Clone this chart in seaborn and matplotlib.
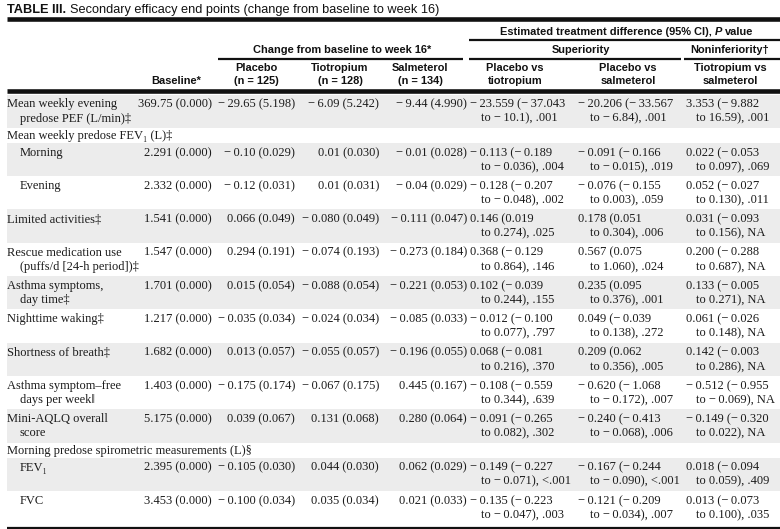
import matplotlib
matplotlib.use("Agg")
import matplotlib.pyplot as plt
import seaborn as sns

# ---------------- data ----------------
title_bold = "TABLE III."
title_rest = "Secondary efficacy end points (change from baseline to week 16)"

group_change = "Change from baseline to week 16*"
group_diff = ["Estimated treatment difference (95% CI), ", "P", " value"]
group_sup = "Superiority"
group_noninf = "Noninferiority†"

col_baseline = ["Baseline*"]
col_placebo = ["Placebo", "(n = 125)"]
col_tio = ["Tiotropium", "(n = 128)"]
col_salm = ["Salmeterol", "(n = 134)"]
col_pvt = ["Placebo vs", "tiotropium"]
col_pvs = ["Placebo vs", "salmeterol"]
col_tvs = ["Tiotropium vs", "salmeterol"]

row_labels = [
    ["Mean weekly evening", "predose PEF (L/min)‡"],
    ["Mean weekly predose FEV\u2081 (L)‡"],
    ["Morning"],
    ["Evening"],
    ["Limited activities‡"],
    ["Rescue medication use", "(puffs/d [24-h period])‡"],
    ["Asthma symptoms,", "day time‡"],
    ["Nighttime waking‡"],
    ["Shortness of breath‡"],
    ["Asthma symptom–free", "days per week‖"],
    ["Mini-AQLQ overall", "score"],
    ["Morning predose spirometric measurements (L)§"],
    ["FEV\u2081"],
    ["FVC"],
]
row_sub = [False, False, True, True, False, False, False, False, False,
           False, False, False, True, True]

baseline = ["369.75 (0.000)", None, "2.291 (0.000)", "2.332 (0.000)",
            "1.541 (0.000)", "1.547 (0.000)", "1.701 (0.000)", "1.217 (0.000)",
            "1.682 (0.000)", "1.403 (0.000)", "5.175 (0.000)", None,
            "2.395 (0.000)", "3.453 (0.000)"]
placebo = ["−29.65 (5.198)", None, "−0.10 (0.029)", "−0.12 (0.031)",
           "0.066 (0.049)", "0.294 (0.191)", "0.015 (0.054)", "−0.035 (0.034)",
           "0.013 (0.057)", "−0.175 (0.174)", "0.039 (0.067)", None,
           "−0.105 (0.030)", "−0.100 (0.034)"]
tiotropium = ["−6.09 (5.242)", None, "0.01 (0.030)", "0.01 (0.031)",
              "−0.080 (0.049)", "−0.074 (0.193)", "−0.088 (0.054)", "−0.024 (0.034)",
              "−0.055 (0.057)", "−0.067 (0.175)", "0.131 (0.068)", None,
              "0.044 (0.030)", "0.035 (0.034)"]
salmeterol = ["−9.44 (4.990)", None, "−0.01 (0.028)", "−0.04 (0.029)",
              "−0.111 (0.047)", "−0.273 (0.184)", "−0.221 (0.053)", "−0.085 (0.033)",
              "−0.196 (0.055)", "0.445 (0.167)", "0.280 (0.064)", None,
              "0.062 (0.029)", "0.021 (0.033)"]

# (estimate, lower, upper, P)
pbo_vs_tio = [("−23.559", "−37.043", "−10.1", ".001"), None,
              ("−0.113", "−0.189", "−0.036", ".004"),
              ("−0.128", "−0.207", "−0.048", ".002"),
              ("0.146", "0.019", "0.274", ".025"),
              ("0.368", "−0.129", "0.864", ".146"),
              ("0.102", "−0.039", "0.244", ".155"),
              ("−0.012", "−0.100", "0.077", ".797"),
              ("0.068", "−0.081", "0.216", ".370"),
              ("−0.108", "−0.559", "0.344", ".639"),
              ("−0.091", "−0.265", "0.082", ".302"), None,
              ("−0.149", "−0.227", "−0.071", "<.001"),
              ("−0.135", "−0.223", "−0.047", ".003")]
pbo_vs_salm = [("−20.206", "−33.567", "−6.84", ".001"), None,
               ("−0.091", "−0.166", "−0.015", ".019"),
               ("−0.076", "−0.155", "0.003", ".059"),
               ("0.178", "0.051", "0.304", ".006"),
               ("0.567", "0.075", "1.060", ".024"),
               ("0.235", "0.095", "0.376", ".001"),
               ("0.049", "−0.039", "0.138", ".272"),
               ("0.209", "0.062", "0.356", ".005"),
               ("−0.620", "−1.068", "−0.172", ".007"),
               ("−0.240", "−0.413", "−0.068", ".006"), None,
               ("−0.167", "−0.244", "−0.090", "<.001"),
               ("−0.121", "−0.209", "−0.034", ".007")]
tio_vs_salm = [("3.353", "−9.882", "16.59", ".001"), None,
               ("0.022", "−0.053", "0.097", ".069"),
               ("0.052", "−0.027", "0.130", ".011"),
               ("0.031", "−0.093", "0.156", "NA"),
               ("0.200", "−0.288", "0.687", "NA"),
               ("0.133", "−0.005", "0.271", "NA"),
               ("0.061", "−0.026", "0.148", "NA"),
               ("0.142", "−0.003", "0.286", "NA"),
               ("−0.512", "−0.955", "−0.069", "NA"),
               ("−0.149", "−0.320", "0.022", "NA"), None,
               ("0.018", "−0.094", "0.059", ".409"),
               ("0.013", "−0.073", "0.100", ".035")]

# ---------------- style / layout ----------------
sns.set_theme(style="white")
SERIF = ["Liberation Serif", "DejaVu Serif"]
SANS = ["Liberation Sans", "DejaVu Sans"]
plt.rcParams["font.family"] = SERIF

W, H = 780, 529
fig = plt.figure(figsize=(W / 100, H / 100), dpi=100)
ax = fig.add_axes([0, 0, 1, 1])
ax.set_xlim(0, W)
ax.set_ylim(H, 0)
ax.axis("off")

BODY = dict(fontsize=9, family=SERIF, color="#1c1c1c", va="center")
HEAD = dict(fontsize=7.9, family=SANS, fontweight="bold", color="#111111",
            va="center", ha="center")
STRIPE = "#ececec"
LEFT = 7
SUB = 20

renderer = fig.canvas.get_renderer()


def width_of(t):
    bb = t.get_window_extent(renderer)
    inv = ax.transData.inverted()
    (x0, _), (x1, _) = inv.transform([[bb.x0, 0], [bb.x1, 0]])
    return abs(x1 - x0)


def fmt(s):
    return s.replace("−", "−\u2009")


# title
tb = ax.text(LEFT, 10, title_bold, fontsize=9.2, family=SANS, fontweight="bold",
             va="center", ha="left", color="#111111")
wb = width_of(tb)
ax.text(LEFT + wb + 3.5, 10, title_rest, fontsize=9.2, family=SANS,
        va="center", ha="left", color="#111111")
ax.plot([LEFT, W], [18.5, 18.5], color="#111111", lw=3.3, solid_capstyle="butt")

# group headers
segs = []
x = 0
for i, s in enumerate(group_diff):
    style = dict(HEAD)
    style["ha"] = "left"
    if i == 1:
        style["fontstyle"] = "italic"
    t = ax.text(x, 32, s.strip(), **style)
    segs.append(t)
    x += width_of(t) + (3 if i < 2 else 0)
total = x
x0 = 627 - total / 2
cur = x0
for i, t in enumerate(segs):
    t.set_x(cur)
    cur += width_of(t) + (3 if i < 2 else 0)
ax.plot([469, W], [39.5, 39.5], color="#111111", lw=1.6, solid_capstyle="butt")

ax.text(342, 50, group_change, **HEAD)
ax.text(581, 50, group_sup, **HEAD)
ax.text(730, 50, group_noninf, **HEAD)
ax.plot([218, 463], [58.5, 58.5], color="#111111", lw=1.6, solid_capstyle="butt")
ax.plot([469, 681], [58.5, 58.5], color="#111111", lw=1.6, solid_capstyle="butt")
ax.plot([684, W], [58.5, 58.5], color="#111111", lw=1.6, solid_capstyle="butt")

# column headers
ax.text(176, 81, col_baseline[0], **HEAD)
for cx, lines in [(256, col_placebo), (340, col_tio), (420, col_salm),
                  (515, col_pvt), (628, col_pvs), (730, col_tvs)]:
    ax.text(cx, 68, lines[0], **HEAD)
    ax.text(cx, 81, lines[1], **HEAD)
ax.plot([LEFT, W], [90.5, 90.5], color="#111111", lw=3.3, solid_capstyle="butt")

# body rows
TOP = 94.5
H_ONE = 15.0
H_TWO = 33.3
num_cols = [(212, baseline), (295, placebo), (379, tiotropium), (467, salmeterol)]
ci_cols = [(470, 481, pbo_vs_tio), (578, 590, pbo_vs_salm), (686, 696, tio_vs_salm)]

y = TOP
for i, labels in enumerate(row_labels):
    header_row = baseline[i] is None
    h = H_ONE if header_row else H_TWO
    if i % 2 == 0:
        ax.axhspan(y, y + h, xmin=LEFT / W, xmax=1, color=STRIPE, lw=0, zorder=0)
    y1 = y + (8.5 if header_row else 10.0)
    y2 = y1 + 14.2
    xl = SUB if row_sub[i] else LEFT
    ax.text(xl, y1, labels[0], ha="left", **BODY)
    if len(labels) > 1:
        ax.text(SUB, y2, labels[1], ha="left", **BODY)
    if not header_row:
        for xr, vals in num_cols:
            ax.text(xr, y1, fmt(vals[i]), ha="right", **BODY)
        for xa, xb, vals in ci_cols:
            est, lo, hi, p = vals[i]
            ax.text(xa, y1, fmt(f"{est} ({lo}"), ha="left", **BODY)
            ax.text(xb, y2, fmt(f"to {hi}), {p}"), ha="left", **BODY)
    y += h

ax.plot([LEFT, W], [527.5, 527.5], color="#111111", lw=1.6, solid_capstyle="butt")

fig.savefig("out.png", dpi=100, facecolor="white")
